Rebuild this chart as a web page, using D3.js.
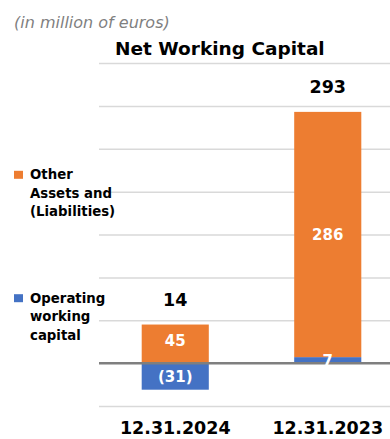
<!DOCTYPE html>
<html>
<head>
<meta charset="utf-8">
<script src="https://cdn.jsdelivr.net/npm/d3@7"></script>
<style>
  html, body { margin: 0; padding: 0; background: #ffffff; }
  svg { display: block; }
  text { font-family: "DejaVu Sans", Verdana, sans-serif; }
</style>
</head>
<body>
<div id="chart"></div>
<script>
// Net working capital by reporting date (in million of euros)
const categories = ["12.31.2024", "12.31.2023"];
const operatingWC = [-31, 7];
const otherAssets = [45, 286];
const totals = [14, 293];
const yTicks = [-50, 0, 50, 100, 150, 200, 250, 300, 350];
const seriesNames = ["Other\nAssets and\n(Liabilities)", "Operating\nworking\ncapital"];

const W = 390, H = 439;
const colors = { other: "#ED7D31", operating: "#4472C4" };

const svg = d3.select("#chart").append("svg")
  .attr("width", W).attr("height", H);

const y = d3.scaleLinear().domain([-50, 350]).range([406, 63]);
const x = d3.scaleBand().domain(categories).range([99, 404]).padding(0);
const barW = x.bandwidth() * 0.44;
const cx = c => x(c) + x.bandwidth() / 2;

// gridlines
const grid = d3.axisLeft(y).tickValues(yTicks).tickSize(-(404 - 99)).tickFormat("");
svg.append("g").attr("transform", "translate(99,0)").call(grid)
  .call(g => g.select(".domain").remove())
  .call(g => g.selectAll(".tick line")
    .attr("stroke", d => d === 0 ? "none" : "#d9d9d9").attr("stroke-width", 1.5));

// stacked segments: negatives stack downward from zero, positives upward
const segs = [];
categories.forEach((c, i) => {
  const op = operatingWC[i], ot = otherAssets[i];
  let posBase = 0, negBase = 0;
  [["operating", op], ["other", ot]].forEach(([k, v]) => {
    let y0, y1;
    if (v >= 0) { y0 = posBase; y1 = posBase + v; posBase = y1; }
    else { y0 = negBase; y1 = negBase + v; negBase = y1; }
    segs.push({ cat: c, key: k, value: v, y0, y1 });
  });
});

svg.append("g").selectAll("rect").data(segs).join("rect")
  .attr("x", d => cx(d.cat) - barW / 2)
  .attr("width", barW)
  .attr("y", d => y(Math.max(d.y0, d.y1)))
  .attr("height", d => Math.abs(y(d.y0) - y(d.y1)))
  .attr("fill", d => colors[d.key]);

// zero baseline
svg.append("line")
  .attr("x1", 99).attr("x2", W)
  .attr("y1", y(0)).attr("y2", y(0))
  .attr("stroke", "#7f7f7f").attr("stroke-width", 2.5);

// segment value labels
const fmt = v => v < 0 ? `(${Math.abs(v)})` : `${v}`;
svg.append("g").selectAll("text").data(segs).join("text")
  .attr("x", d => cx(d.cat))
  .attr("y", d => (y(d.y0) + y(d.y1)) / 2 - (d.key === "other" && d.value < 100 ? 3 : 0))
  .attr("dy", "0.36em")
  .attr("text-anchor", "middle")
  .attr("font-size", 15).attr("font-weight", "bold")
  .attr("fill", "#ffffff")
  .text(d => fmt(d.value));

// totals above each stack
svg.append("g").selectAll("text").data(categories).join("text")
  .attr("x", c => cx(c))
  .attr("y", (c, i) => y(Math.max(0, operatingWC[i]) + Math.max(0, otherAssets[i])) - 19)
  .attr("text-anchor", "middle")
  .attr("font-size", 17.5).attr("font-weight", "bold")
  .attr("fill", "#000000")
  .text((c, i) => totals[i]);

// category axis labels
svg.append("g").selectAll("text").data(categories).join("text")
  .attr("x", c => cx(c))
  .attr("y", 434)
  .attr("text-anchor", "middle")
  .attr("font-size", 17.5).attr("font-weight", "bold")
  .attr("fill", "#000000")
  .text(c => c);

// title and unit note
svg.append("text").attr("x", 115).attr("y", 55)
  .attr("font-size", 18.5).attr("font-weight", "bold").attr("fill", "#000")
  .text("Net Working Capital");
svg.append("text").attr("x", 14).attr("y", 28)
  .attr("font-family", "'Open Sans', 'DejaVu Sans', sans-serif")
  .attr("font-size", 16).attr("font-style", "italic").attr("fill", "#7f7f7f")
  .text("(in million of euros)");

// legend
const legend = [
  { name: seriesNames[0], color: colors.other, top: 179.3 },
  { name: seriesNames[1], color: colors.operating, top: 302.7 }
];
const lg = svg.append("g").selectAll("g").data(legend).join("g");
lg.append("rect")
  .attr("x", 14).attr("y", d => d.top - 8.5)
  .attr("width", 9).attr("height", 8)
  .attr("fill", d => d.color);
lg.append("text")
  .attr("font-size", 13.3).attr("font-weight", "bold").attr("fill", "#000")
  .selectAll("tspan").data(d => d.name.split("\n").map((t, j) => ({ t, j, top: d.top })))
  .join("tspan")
  .attr("x", 30).attr("y", d => d.top + d.j * 18.5)
  .text(d => d.t);
</script>
</body>
</html>
